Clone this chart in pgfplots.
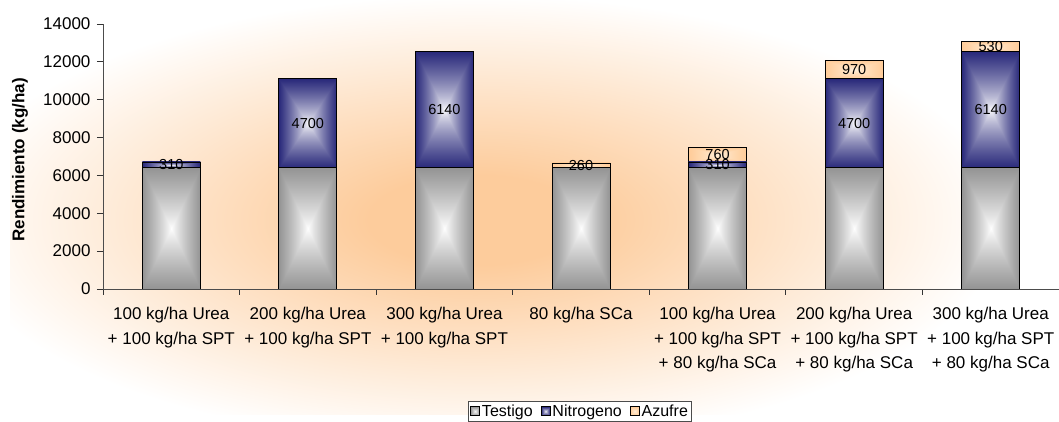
\documentclass[border=0pt]{standalone}
\usepackage{fontspec}
\setmainfont{Liberation Sans}
\usepackage{pgfplots}
\pgfplotsset{compat=1.18}

\definecolor{peach}{RGB}{253,204,156}
\pgfdeclareradialshading{bgshade}{\pgfpoint{0bp}{0bp}}{color(0bp)=(peach); color(5bp)=(peach); color(25bp)=(white); color(50bp)=(white)}

\pgfdeclarefunctionalshading{grayrect}{\pgfpoint{0bp}{0bp}}{\pgfpoint{100bp}{100bp}}{}{
 50 sub abs exch 50 sub abs 2 copy lt {exch} if pop 25 div dup 1 gt {pop 1} if 0.85 exp
 dup 0.42 mul 1 exch sub exch
 dup 0.42 mul 1 exch sub exch
 0.42 mul 1 exch sub }
\pgfdeclarefunctionalshading{navyrect}{\pgfpoint{0bp}{0bp}}{\pgfpoint{100bp}{100bp}}{}{
 50 sub abs exch 50 sub abs 2 copy lt {exch} if pop 25 div dup 1 gt {pop 1} if 0.75 exp
 dup 0.84 mul 1 exch sub exch
 dup 0.84 mul 1 exch sub exch
 0.52 mul 1 exch sub }
\pgfdeclarefunctionalshading{peachrect}{\pgfpoint{0bp}{0bp}}{\pgfpoint{100bp}{100bp}}{}{
 50 sub abs exch 50 sub abs 2 copy lt {exch} if pop 25 div dup 1 gt {pop 1} if 0.8 exp
 1 exch
 dup 0.14 mul 0.94 exch sub exch
 0.26 mul 0.86 exch sub }

\pgfplotsset{
 common/.style={at={(103pt,133pt)}, anchor=south west, scale only axis,
   width=956pt, height=265pt, xmin=-0.5, xmax=6.5, ymin=0, ymax=14000},
 bars/.style={common, hide axis, ybar stacked, bar width=58pt},
 tbar/.style={draw=black, line width=0.8pt, shade, shading=grayrect},
 nbar/.style={draw=black, line width=0.8pt, shade, shading=navyrect},
 abar/.style={draw=black, line width=0.8pt, shade, shading=peachrect},
 lbl/.style={nodes near coords={#1}, every node near coord/.append style={anchor=center,
   font=\fontsize{14.5}{16}\selectfont}},
}

\begin{document}
\begin{tikzpicture}
\useasboundingbox (0pt,0pt) rectangle (1059pt,422pt);
\begin{scope}
\clip (10pt,7pt) rectangle (1059pt,422pt);
\shade[shading=bgshade] (475pt,202pt) ellipse (530pt and 225pt);
\end{scope}
\begin{axis}[common,
 axis lines*=left,
 axis line style={black!70, line width=0.8pt},
 tick align=outside,
 major tick length=6pt,
 tick style={black!80, line width=0.8pt},
 xtick={-0.5,0.5,...,6.5},
 x tick label as interval,
 xticklabels={{100 kg/ha Urea\\+ 100 kg/ha SPT},{200 kg/ha Urea\\+ 100 kg/ha SPT},{300 kg/ha Urea\\+ 100 kg/ha SPT},{80 kg/ha SCa},{100 kg/ha Urea\\+ 100 kg/ha SPT\\+ 80 kg/ha SCa},{200 kg/ha Urea\\+ 100 kg/ha SPT\\+ 80 kg/ha SCa},{300 kg/ha Urea\\+ 100 kg/ha SPT\\+ 80 kg/ha SCa}},
 xticklabel style={align=center, font=\fontsize{17}{24.5}\selectfont, yshift=-9pt},
 ytick={0,2000,...,14000},
 scaled y ticks=false,
 yticklabel style={font=\fontsize{17}{19}\selectfont, /pgf/number format/1000 sep={}, xshift=-3pt},
 /pgf/number format/assume math mode=true,
 every axis y label/.style={at={(axis description cs:-0.0868,0.487)}, anchor=center, rotate=90, font=\bfseries\fontsize{17}{20}\selectfont},
 ylabel={Rendimiento (kg/ha)},
 legend style={at={(0.499,-0.4226)}, anchor=north, draw=black!70, font=\fontsize{16}{18}\selectfont, inner sep=1.5pt, /tikz/every even column/.style={column sep=6pt}},
 legend columns=-1,
 legend image code/.code={\draw[#1, line width=0.8pt] (0pt,-4.5pt) rectangle (9pt,4.5pt);},
]
\addlegendimage{tbar}\addlegendentry{Testigo}
\addlegendimage{nbar}\addlegendentry{Nitrogeno}
\addlegendimage{abar}\addlegendentry{Azufre}
\end{axis}
% 100 kg/ha Urea + 100 kg/ha SPT
\begin{axis}[bars]
\addplot[tbar] coordinates {(0,6400)};
\addplot[nbar, lbl=310] coordinates {(0,310)};
\end{axis}
% 200 kg/ha Urea + 100 kg/ha SPT
\begin{axis}[bars]
\addplot[tbar] coordinates {(1,6400)};
\addplot[nbar, lbl=4700] coordinates {(1,4700)};
\end{axis}
% 300 kg/ha Urea + 100 kg/ha SPT
\begin{axis}[bars]
\addplot[tbar] coordinates {(2,6400)};
\addplot[nbar, lbl=6140] coordinates {(2,6140)};
\end{axis}
% 80 kg/ha SCa
\begin{axis}[bars]
\addplot[tbar] coordinates {(3,6400)};
\addplot[abar, lbl=260] coordinates {(3,260)};
\end{axis}
% 100 Urea + 100 SPT + 80 SCa
\begin{axis}[bars]
\addplot[tbar] coordinates {(4,6400)};
\addplot[nbar, lbl=310] coordinates {(4,310)};
\addplot[abar, lbl=760] coordinates {(4,760)};
\end{axis}
% 200 Urea + 100 SPT + 80 SCa
\begin{axis}[bars]
\addplot[tbar] coordinates {(5,6400)};
\addplot[nbar, lbl=4700] coordinates {(5,4700)};
\addplot[abar, lbl=970] coordinates {(5,970)};
\end{axis}
% 300 Urea + 100 SPT + 80 SCa
\begin{axis}[bars]
\addplot[tbar] coordinates {(6,6400)};
\addplot[nbar, lbl=6140] coordinates {(6,6140)};
\addplot[abar, lbl=530] coordinates {(6,530)};
\end{axis}
\end{tikzpicture}
\end{document}
